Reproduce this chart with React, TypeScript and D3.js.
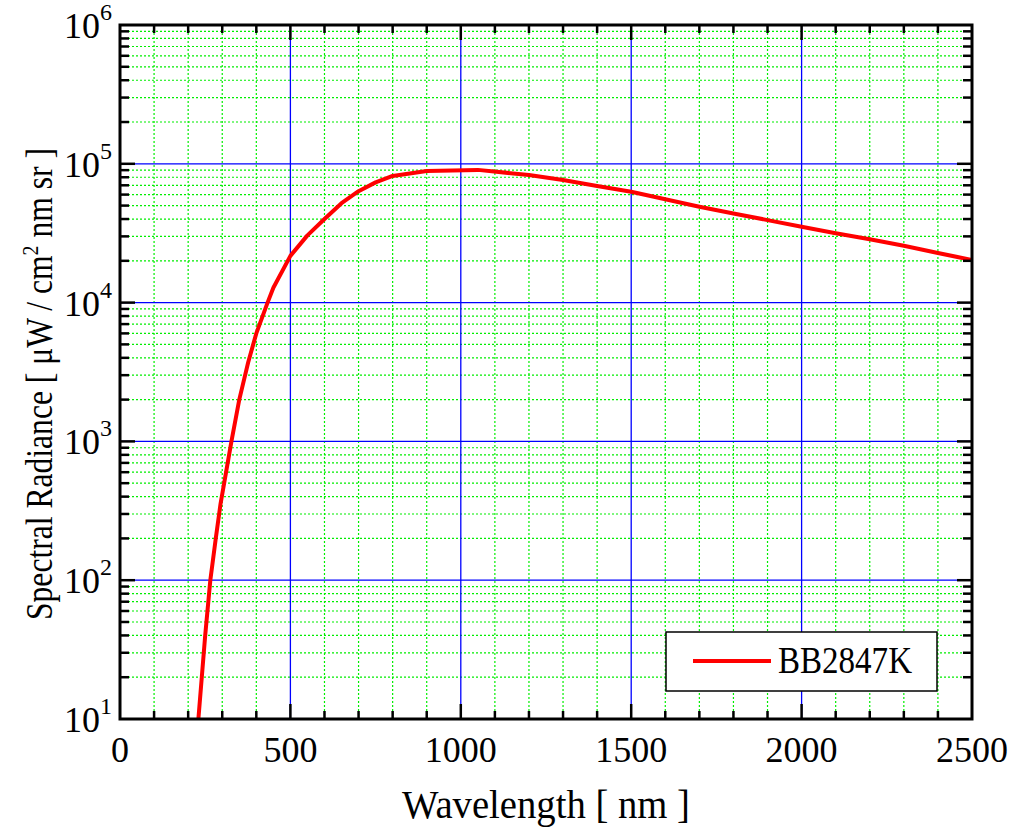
import React, { useEffect, useRef } from 'react';
import * as d3 from 'd3';

// blackbody curve (nm, uW / cm^2 nm sr)
const wavelengths = [230, 250, 265, 281, 295, 327, 350, 376, 400, 433, 450, 500, 550, 600, 650, 700, 750, 800, 900, 1050, 1200, 1300, 1400, 1500, 1600, 1700, 1800, 1900, 2000, 2100, 2200, 2300, 2400, 2500];
const radiance = [10, 40, 100, 200, 355, 1000, 2000, 3700, 6000, 10000, 12800, 21700, 30500, 40000, 52000, 63500, 73500, 81700, 88700, 90400, 83000, 76400, 69200, 62900, 55500, 49100, 43900, 39300, 35200, 31600, 28600, 25700, 22800, 20300];
const seriesName = 'BB2847K';

const xTicks = [0, 500, 1000, 1500, 2000, 2500];
const yExponents = [1, 2, 3, 4, 5, 6];

const W = 1012;
const H = 833;
const FONT = '"Liberation Serif", "Times New Roman", serif';

export default function App() {
  const svgRef = useRef<SVGSVGElement>(null);

  useEffect(() => {
    const svg = d3.select(svgRef.current);
    svg.selectAll('*').remove();

    const left = 120, right = 972, top = 25, bottom = 719;
    const x = d3.scaleLinear().domain([0, 2500]).range([left, right]);
    const y = d3.scaleLog().domain([10, 1e6]).range([bottom, top]);

    const minorX = d3.range(100, 2500, 100).filter(v => v % 500 !== 0);
    const majorX = xTicks.filter(v => v > 0 && v < 2500);
    const minorY: number[] = [];
    for (let e = 1; e < 6; e++) for (let m = 2; m <= 9; m++) minorY.push(m * Math.pow(10, e));
    const majorY = yExponents.map(e => Math.pow(10, e)).filter(v => v > 10 && v < 1e6);

    const grid = svg.append('g');
    grid.selectAll('line.mx').data(minorX).enter().append('line')
      .attr('x1', d => x(d)).attr('x2', d => x(d)).attr('y1', top).attr('y2', bottom)
      .attr('stroke', '#00ee00').attr('stroke-width', 1.2).attr('stroke-dasharray', '2,2');
    grid.selectAll('line.my').data(minorY).enter().append('line')
      .attr('x1', left).attr('x2', right).attr('y1', d => y(d)).attr('y2', d => y(d))
      .attr('stroke', '#00ee00').attr('stroke-width', 1.2).attr('stroke-dasharray', '2,2');
    grid.selectAll('line.Mx').data(majorX).enter().append('line')
      .attr('x1', d => x(d)).attr('x2', d => x(d)).attr('y1', top).attr('y2', bottom)
      .attr('stroke', '#0000ff').attr('stroke-width', 1.3);
    grid.selectAll('line.My').data(majorY).enter().append('line')
      .attr('x1', left).attr('x2', right).attr('y1', d => y(d)).attr('y2', d => y(d))
      .attr('stroke', '#0000ff').attr('stroke-width', 1.3);

    // curve
    svg.append('clipPath').attr('id', 'plotclip').append('rect')
      .attr('x', left).attr('y', top).attr('width', right - left).attr('height', bottom - top);
    const pts = wavelengths.map((w, i) => [w, radiance[i]] as [number, number]);
    const line = d3.line<[number, number]>().x(d => x(d[0])).y(d => y(d[1]));
    svg.append('path').datum(pts)
      .attr('d', line)
      .attr('fill', 'none').attr('stroke', '#ff0000').attr('stroke-width', 4)
      .attr('stroke-linejoin', 'round')
      .attr('clip-path', 'url(#plotclip)');

    // inward ticks on all four sides
    const ticks = svg.append('g').attr('stroke', '#000').attr('stroke-width', 2.5);
    const xAll = [...minorX.map(v => [v, 8]), ...majorX.map(v => [v, 15])];
    const yAll = [...minorY.map(v => [v, 9]), ...majorY.map(v => [v, 15])];
    xAll.forEach(([v, len]) => {
      ticks.append('line').attr('x1', x(v)).attr('x2', x(v)).attr('y1', bottom).attr('y2', bottom - len);
      ticks.append('line').attr('x1', x(v)).attr('x2', x(v)).attr('y1', top).attr('y2', top + len);
    });
    yAll.forEach(([v, len]) => {
      ticks.append('line').attr('x1', left).attr('x2', left + len).attr('y1', y(v)).attr('y2', y(v));
      ticks.append('line').attr('x1', right).attr('x2', right - len).attr('y1', y(v)).attr('y2', y(v));
    });

    // frame
    svg.append('rect')
      .attr('x', left).attr('y', top).attr('width', right - left).attr('height', bottom - top)
      .attr('fill', 'none').attr('stroke', '#000').attr('stroke-width', 3);

    // x tick labels
    svg.selectAll('text.xt').data(xTicks).enter().append('text')
      .attr('x', d => x(d)).attr('y', 762)
      .attr('text-anchor', 'middle')
      .attr('font-family', FONT).attr('font-size', 36)
      .text(d => d);

    // y tick labels 10^n
    yExponents.forEach(e => {
      const yy = y(Math.pow(10, e));
      svg.append('text').attr('x', 100).attr('y', yy + 13)
        .attr('text-anchor', 'end').attr('font-family', FONT).attr('font-size', 36)
        .text('10');
      svg.append('text').attr('x', 100).attr('y', yy - 5)
        .attr('font-family', FONT).attr('font-size', 24)
        .text(e);
    });

    // axis titles
    svg.append('text')
      .attr('x', 402).attr('y', 818)
      .attr('font-family', FONT).attr('font-size', 40)
      .attr('textLength', 288).attr('lengthAdjust', 'spacingAndGlyphs')
      .text('Wavelength [ nm ]');

    const yt = svg.append('text')
      .attr('transform', 'translate(52,620) rotate(-90)')
      .attr('font-family', FONT).attr('font-size', 38)
      .attr('textLength', 472).attr('lengthAdjust', 'spacingAndGlyphs');
    yt.append('tspan').text('Spectral Radiance [ \u03bcW / cm');
    yt.append('tspan').attr('dy', -14).attr('font-size', 24).text('2');
    yt.append('tspan').attr('dy', 14).text(' nm sr ]');

    // legend
    const lg = svg.append('g');
    lg.append('rect').attr('x', 666).attr('y', 632).attr('width', 271).attr('height', 59)
      .attr('fill', '#fff').attr('stroke', '#000').attr('stroke-width', 1.5);
    lg.append('line').attr('x1', 693).attr('x2', 771).attr('y1', 661).attr('y2', 661)
      .attr('stroke', '#ff0000').attr('stroke-width', 4);
    lg.append('text').attr('x', 778).attr('y', 673)
      .attr('font-family', FONT).attr('font-size', 37)
      .attr('textLength', 134).attr('lengthAdjust', 'spacingAndGlyphs')
      .text(seriesName);
  }, []);

  return (
    <svg ref={svgRef} width={W} height={H}
      style={{ position: 'absolute', left: 0, top: 0, background: '#fff' }} />
  );
}
